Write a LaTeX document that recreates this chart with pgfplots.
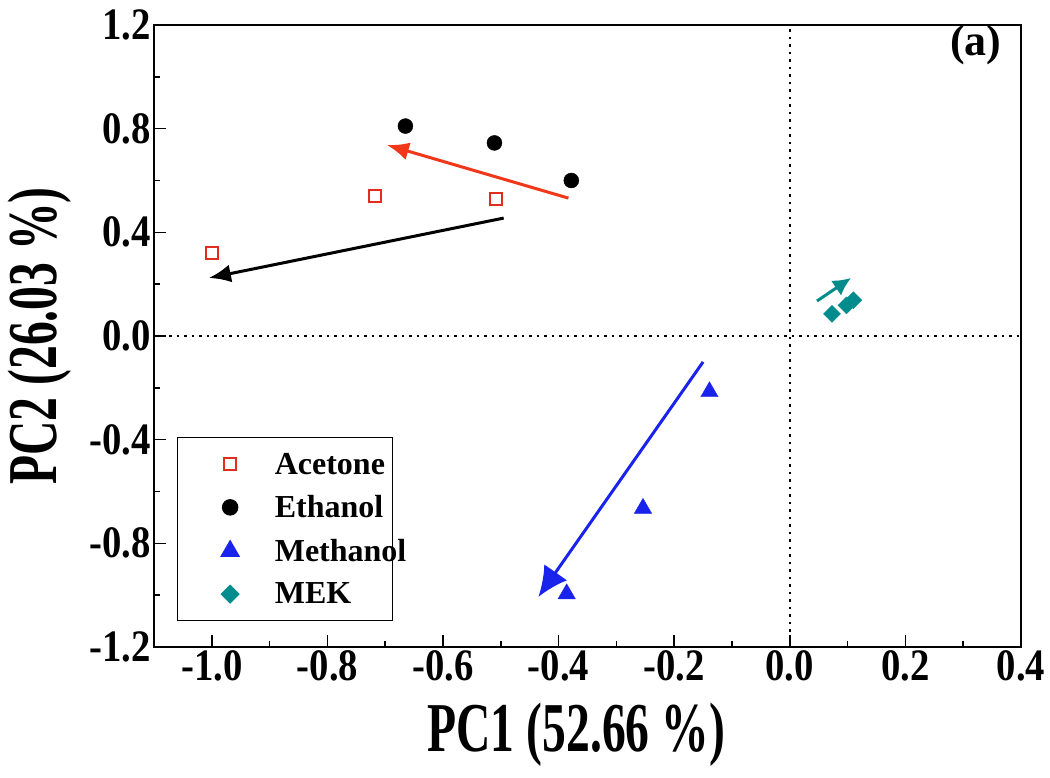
\documentclass[border=0pt]{standalone}
\usepackage{fontspec}
\setmainfont{Liberation Serif}
\newfontfamily\condA{Liberation Serif}[FakeStretch=0.86]
\newfontfamily\condB{Liberation Serif}[FakeStretch=0.68]
\usepackage{pgfplots}
\pgfplotsset{compat=1.18}
\usetikzlibrary{arrows.meta}
\definecolor{accred}{RGB}{225,45,30}
\definecolor{arrred}{RGB}{240,55,25}
\definecolor{mblue}{RGB}{25,35,235}
\definecolor{mteal}{RGB}{0,140,140}
\newcommand{\lgent}[1]{#1\hspace*{-60pt}}
\begin{document}
\begin{tikzpicture}
\path[use as bounding box] (0,0) rectangle (1050pt,778pt);
\begin{axis}[
  at={(154pt,131pt)}, anchor=south west,
  width=867pt, height=622pt, scale only axis,
  xmin=-1.1, xmax=0.4, ymin=-1.2, ymax=1.2,
  xtick={-1,-0.8,-0.6,-0.4,-0.2,0,0.2,0.4},
  xticklabels={-1.0,-0.8,-0.6,-0.4,-0.2,0.0,0.2,0.4},
  ytick={-1.2,-0.8,-0.4,0,0.4,0.8,1.2},
  yticklabels={-1.2,-0.8,-0.4,0.0,0.4,0.8,1.2},
  minor x tick num=1, minor y tick num=1,
  tick pos=left, tick align=inside,
  major tick length=12pt, minor tick length=6pt,
  tick style={black, line width=1.5pt},
  axis line style={line width=2.5pt},
  tick label style={font=\condA\bfseries\fontsize{45}{45}\selectfont},
  xlabel={PC1 (52.66 \%)}, ylabel={PC2 (26.03 \%)},
  label style={font=\condB\bfseries\fontsize{70}{70}\selectfont},
  xlabel style={at={(axis description cs:0.487,-0.1415)}, anchor=center},
  ylabel style={at={(axis description cs:-0.1315,0.5)}, anchor=center},
  legend style={at={(0.0265,0.042)}, anchor=south west, draw=black, line width=1pt,
    font=\bfseries\fontsize{32}{32}\selectfont, row sep=16pt, inner xsep=44pt, inner ysep=13pt,
    /tikz/every odd column/.append style={column sep=34pt}},
  legend cell align=left,
  legend image post style={line width=1.5pt},
]
\addplot[black, line width=1.6pt, dash pattern=on 2.5pt off 5pt, forget plot] coordinates {(0,-1.2) (0,1.2)};
\addplot[black, line width=1.6pt, dash pattern=on 2.5pt off 5pt, forget plot] coordinates {(-1.1,0) (0.4,0)};

\addplot[only marks, mark=square, mark size=6pt, accred, line width=1.8pt] coordinates {
  (-1.0,0.32) (-0.718,0.54) (-0.509,0.53)};
\addlegendentry{\lgent{Acetone}}
\addplot[only marks, mark=*, mark size=7.5pt, black] coordinates {
  (-0.665,0.81) (-0.511,0.745) (-0.378,0.60)};
\addlegendentry{\lgent{Ethanol}}
\addplot[only marks, mark=triangle*, mark size=10pt, mblue] coordinates {
  (-0.139,-0.215) (-0.254,-0.665) (-0.386,-0.995)};
\addlegendentry{\lgent{Methanol}}
\addplot[only marks, mark=square*, mark size=6pt, mark options={rotate=45}, mteal] coordinates {
  (0.073,0.085) (0.098,0.118) (0.110,0.138)};
\addlegendentry{\lgent{MEK}}

\addplot[arrred, line width=3pt, -{Latex[length=22pt,width=18pt]}, forget plot] coordinates {(-0.383,0.532) (-0.697,0.737)};
\addplot[black, line width=3pt, -{Latex[length=22pt,width=18pt]}, forget plot] coordinates {(-0.495,0.455) (-1.005,0.224)};
\addplot[mblue, line width=3pt, -{Latex[length=30pt,width=28pt]}, forget plot] coordinates {(-0.15,-0.10) (-0.435,-1.007)};
\addplot[mteal, line width=3pt, -{Latex[length=18pt,width=18pt]}, forget plot] coordinates {(0.047,0.135) (0.106,0.224)};

\node[font=\bfseries\fontsize{44}{44}\selectfont] at (rel axis cs:0.948,0.968) {(a)};
\end{axis}
\end{tikzpicture}
\end{document}
